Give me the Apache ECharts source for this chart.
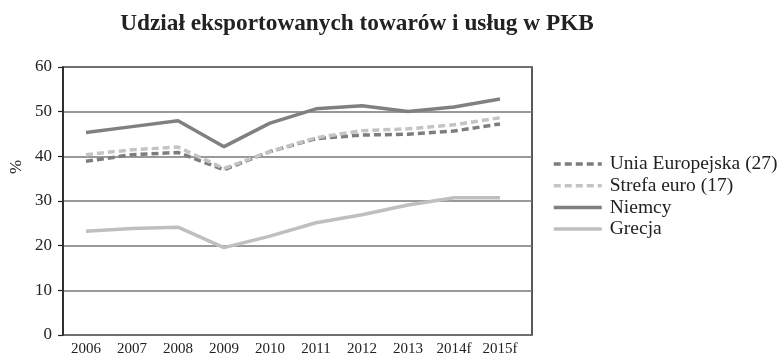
<!DOCTYPE html>
<html>
<head>
<meta charset="utf-8">
<script src="https://cdn.jsdelivr.net/npm/echarts@6/dist/echarts.min.js"></script>
<style>
  html, body { margin: 0; padding: 0; background: #fff; }
  #chart { width: 784px; height: 357px; }
</style>
</head>
<body>
<div id="chart"></div>
<script>
// Export of goods and services as % of GDP
const years = ['2006', '2007', '2008', '2009', '2010', '2011', '2012', '2013', '2014f', '2015f'];
const unia = [38.8, 40.3, 40.8, 36.9, 41.0, 43.9, 44.7, 44.9, 45.6, 47.2];
const strefa = [40.3, 41.4, 42.0, 37.2, 41.0, 44.1, 45.7, 46.1, 47.0, 48.6];
const niemcy = [45.3, 46.6, 47.9, 42.1, 47.4, 50.6, 51.3, 50.0, 51.0, 52.8];
const grecja = [23.1, 23.7, 24.0, 19.4, 22.0, 25.0, 26.8, 29.0, 30.6, 30.6];
const yTicks = [0, 10, 20, 30, 40, 50, 60];

const FONT = 'Liberation Serif';
const chart = echarts.init(document.getElementById('chart'), null, { renderer: 'canvas' });

const lineSeries = (name, data, color, dashed) => ({
  name, type: 'line', data,
  xAxisIndex: 1, yAxisIndex: 1,
  symbol: 'none', smooth: false,
  lineStyle: { color, width: 3.5, type: dashed ? [7, 4] : 'solid', cap: 'butt' },
  itemStyle: { color },
  z: 3
});

chart.setOption({
  animation: false,
  backgroundColor: '#fff',
  title: {
    text: 'Udział eksportowanych towarów i usług w PKB',
    left: 352, top: 7, textAlign: 'center',
    textStyle: { fontFamily: FONT, fontWeight: 'bold', fontSize: 23.3, color: '#222' }
  },
  legend: {
    orient: 'vertical', left: 552, top: 154, padding: 0,
    itemWidth: 48, itemHeight: 14, itemGap: 1.7,
    itemStyle: { opacity: 0 },
    lineStyle: { width: 3.5 },
    textStyle: { fontFamily: FONT, fontSize: 19.5, color: '#222', padding: [0, 0, 0, 3] },
    data: ['Unia Europejska (27)', 'Strefa euro (17)', 'Niemcy', 'Grecja']
  },
  graphic: [{
    type: 'text', x: 17, y: 167, rotation: Math.PI / 2,
    style: { text: '%', fontFamily: FONT, fontSize: 17, fill: '#222', align: 'center', verticalAlign: 'middle' }
  }],
  grid: [
    // framed area with gridlines
    { left: 63, right: 252, top: 67, bottom: 22, show: true, borderColor: '#222', borderWidth: 1.5, backgroundColor: 'transparent' },
    // area holding the lines and year labels
    { left: 63, right: 261, top: 67, bottom: 22 }
  ],
  xAxis: [
    { gridIndex: 0, type: 'category', data: years, show: false },
    {
      gridIndex: 1, type: 'category', data: years, boundaryGap: true,
      axisLine: { show: false }, axisTick: { show: false },
      axisLabel: { fontFamily: FONT, fontSize: 15, color: '#222', margin: 8, interval: 0 }
    }
  ],
  yAxis: [
    {
      gridIndex: 0, type: 'value', min: yTicks[0], max: yTicks[yTicks.length - 1], interval: 10,
      axisLine: { show: true, lineStyle: { color: '#222', width: 1.5 } },
      axisTick: { show: true, inside: false, length: 5, lineStyle: { color: '#222', width: 1.2 } },
      axisLabel: { fontFamily: FONT, fontSize: 17, color: '#222', margin: 11 },
      splitLine: { show: true, lineStyle: { color: '#777', width: 1.5 } }
    },
    { gridIndex: 1, type: 'value', min: yTicks[0], max: yTicks[yTicks.length - 1], show: false }
  ],
  series: [
    lineSeries('Unia Europejska (27)', unia, '#7d7d7d', true),
    lineSeries('Strefa euro (17)', strefa, '#c4c4c4', true),
    lineSeries('Niemcy', niemcy, '#808080', false),
    lineSeries('Grecja', grecja, '#bfbfbf', false)
  ]
});
</script>
</body>
</html>
